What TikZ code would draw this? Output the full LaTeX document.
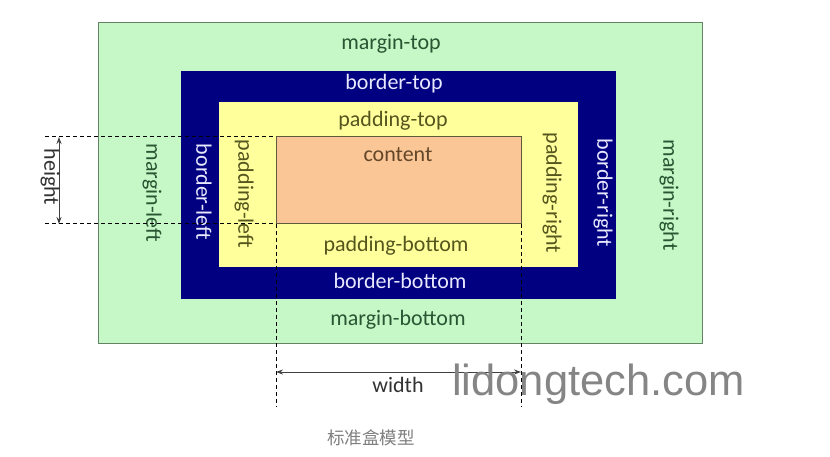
\documentclass[tikz,border=0pt]{standalone}
\usepackage{fontspec}
\setmainfont{Carlito}
\newfontfamily\wmfont{Liberation Sans}
\newfontfamily\cjk{Noto Sans CJK SC}
\usetikzlibrary{arrows.meta}
\definecolor{mgreen}{RGB}{198,247,198}
\definecolor{mgreenline}{RGB}{100,130,100}
\definecolor{bnavy}{RGB}{0,0,128}
\definecolor{pyellow}{RGB}{255,255,155}
\definecolor{csalmon}{RGB}{250,198,150}
\definecolor{cline}{RGB}{95,90,60}
\definecolor{mtext}{RGB}{40,85,50}
\definecolor{ptext}{RGB}{85,85,30}
\definecolor{btext}{RGB}{232,232,255}
\definecolor{ctext}{RGB}{100,70,40}
\definecolor{dtext}{RGB}{50,50,50}
\tikzset{
  boxshape/.style={anchor=north west, inner sep=0pt, outer sep=0pt},
  lab/.style={font=\fontsize{22}{26}\selectfont, inner sep=0pt, anchor=base},
  vlab/.style={font=\fontsize{22}{26}\selectfont, inner sep=0pt, rotate=-90},
  guide/.style={draw=black, line width=1pt, dash pattern=on 4pt off 3pt},
  dim/.style={draw=black!75, line width=1pt, {Stealth[length=7pt,width=5pt]}-{Stealth[length=7pt,width=5pt]}}
}
\begin{document}
\begin{tikzpicture}[x=1pt,y=-1pt]
\useasboundingbox (0,0) rectangle (830,457);
\fill[white] (0,0) rectangle (830,457);
% boxes
\node[boxshape, draw=mgreenline, line width=1pt, fill=mgreen, minimum width=604pt, minimum height=320pt] (margin) at (98,23) {};
\node[boxshape, fill=bnavy, minimum width=435pt, minimum height=228pt] (border) at (181,71) {};
\node[boxshape, fill=pyellow, minimum width=359pt, minimum height=165pt] (padding) at (219,102) {};
\node[boxshape, draw=cline, line width=1pt, fill=csalmon, minimum width=245pt, minimum height=87pt] (content) at (276,137) {};
% horizontal labels
\node[lab, text=mtext] (mt) at (391,50) {margin-top};
\node[lab, text=btext] (bt) at (394,90) {border-top};
\node[lab, text=ptext] (pt) at (393,126.5) {padding-top};
\node[lab, text=ctext] (ct) at (398,161.5) {content};
\node[lab, text=ptext] (pb) at (396,251.5) {padding-bottom};
\node[lab, text=btext] (bb) at (400,288) {border-bottom};
\node[lab, text=mtext] (mb) at (398,325) {margin-bottom};
% vertical labels
\node[vlab, text=mtext] (ml) at (152,193) {margin-left};
\node[vlab, text=btext] (bl) at (204,192) {border-left};
\node[vlab, text=ptext] (pl) at (244,194) {padding-left};
\node[vlab, text=ptext] (pr) at (552,193) {padding-right};
\node[vlab, text=btext] (br) at (603,193) {border-right};
\node[vlab, text=mtext] (mr) at (669,195) {margin-right};
% guides
\coordinate (gtl) at (45,137);
\coordinate (gbl) at (45,224);
\coordinate (gvl) at (276,407);
\coordinate (gvr) at (521,407);
\draw[guide] (gtl) -- (content.north west);
\draw[guide] (gbl) -- (content.south west);
\draw[guide] (content.south west) -- (gvl);
\draw[guide] (content.south east) -- (gvr);
% dimension arrows
\coordinate (ha) at (59,137);
\coordinate (hb) at (59,224);
\coordinate (wa) at (276,372);
\coordinate (wb) at (521,372);
\draw[dim] (ha) -- (hb);
\draw[dim] (wa) -- (wb);
\node[vlab, text=dtext] (hl) at (50,177) {height};
\node[lab, text=dtext] (wl) at (398,392) {width};
% watermark and caption
\node[inner sep=0pt, anchor=base, font=\wmfont\fontsize{43.5}{50}\selectfont, text=black!48] (wm) at (598.5,395) {lidongtech.com};
\node[inner sep=0pt, anchor=base, font=\cjk\fontsize{17.5}{20}\selectfont, text=black!50] (cap) at (371,444) {标准盒模型};
\end{tikzpicture}
\end{document}
